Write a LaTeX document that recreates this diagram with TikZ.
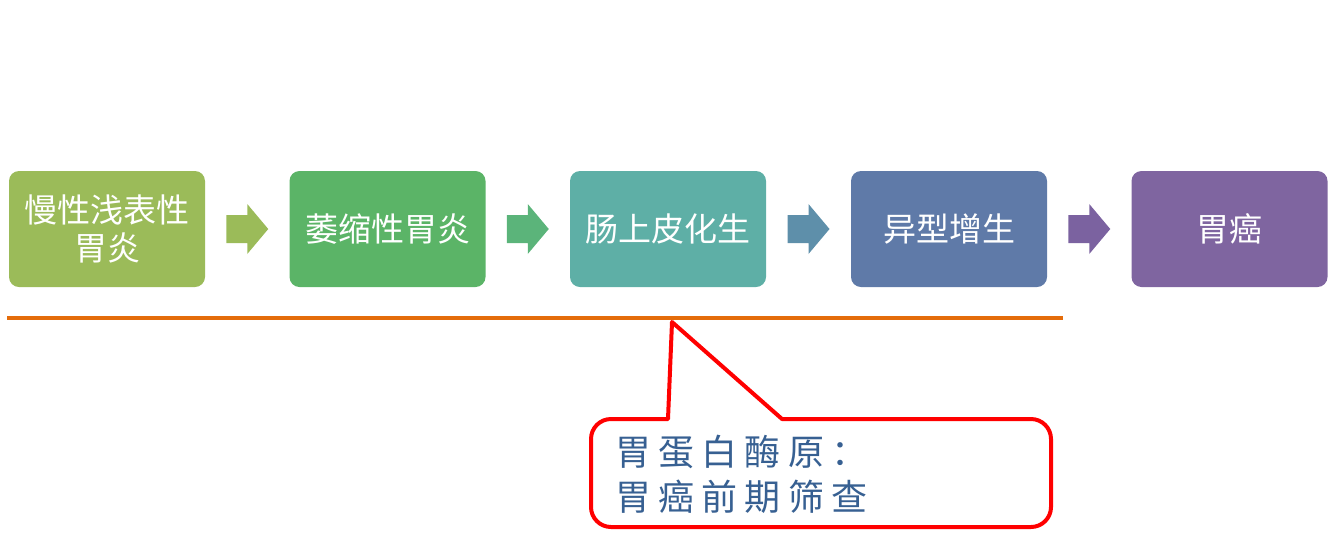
\documentclass[tikz,border=0pt]{standalone}
\usepackage{fontspec}
\setmainfont{Noto Sans CJK SC}
\newfontfamily\cjkspaced[LetterSpace=20]{Noto Sans CJK SC}
\definecolor{cA}{HTML}{9BBB59}
\definecolor{cB}{HTML}{5BB467}
\definecolor{cC}{HTML}{5EAFA6}
\definecolor{cD}{HTML}{5F7AA8}
\definecolor{cE}{HTML}{7F65A0}
\definecolor{aB}{HTML}{5BB47A}
\definecolor{aC}{HTML}{5E8FAA}
\definecolor{aD}{HTML}{7B62A0}
\definecolor{lineorange}{HTML}{E46C0A}
\definecolor{textblue}{HTML}{376092}
\tikzset{
  stagebox/.style={rectangle, rounded corners=10pt, minimum width=196pt, minimum height=116pt,
    inner sep=0pt, text=white, align=center,
    font=\fontsize{33pt}{38pt}\selectfont},
  chev/.pic={\path[pic actions] (-21,-14) -- (0,-14) -- (0,-25) -- (21,0) -- (0,25) -- (0,14) -- (-21,14) -- cycle;},
  orangeline/.style={draw=lineorange, line width=4pt},
  calloutborder/.style={draw=red, line width=4pt, fill=white, line join=round},
}
\begin{document}
\begin{tikzpicture}[x=1pt,y=-1pt]
\useasboundingbox (0,0) rectangle (1332,539);
\node[stagebox, fill=cA] (b1) at (107,229) {慢性浅表性\\胃炎};
\node[stagebox, fill=cB] (b2) at (387.5,229) {萎缩性胃炎};
\node[stagebox, fill=cC] (b3) at (668,229) {肠上皮化生};
\node[stagebox, fill=cD] (b4) at (949,229) {异型增生};
\node[stagebox, fill=cE] (b5) at (1229.5,229) {胃癌};
\path (b1.east) -- (b2.west) pic[fill=cA, pos=0.5] {chev};
\path (b2.east) -- (b3.west) pic[fill=aB, pos=0.5] {chev};
\path (b3.east) -- (b4.west) pic[fill=aC, pos=0.5] {chev};
\path (b4.east) -- (b5.west) pic[fill=aD, pos=0.5] {chev};
\coordinate (lineL) at (7,318);
\coordinate (lineR) at (1063,318);
\draw[orangeline] (lineL) -- (lineR);
\coordinate (tip) at (672,322);
\draw[calloutborder] (tip) -- (782,419) [rounded corners=20pt] -- (1051,419) -- (1051,527) -- (591,527) -- (591,419) [sharp corners] -- (668,419) -- cycle;
\node[anchor=west, align=left, text=textblue, inner sep=0pt,
  font=\cjkspaced\fontsize{36pt}{45pt}\selectfont] (note) at (615,474) {胃蛋白酶原：\\胃癌前期筛查};
\end{tikzpicture}
\end{document}
